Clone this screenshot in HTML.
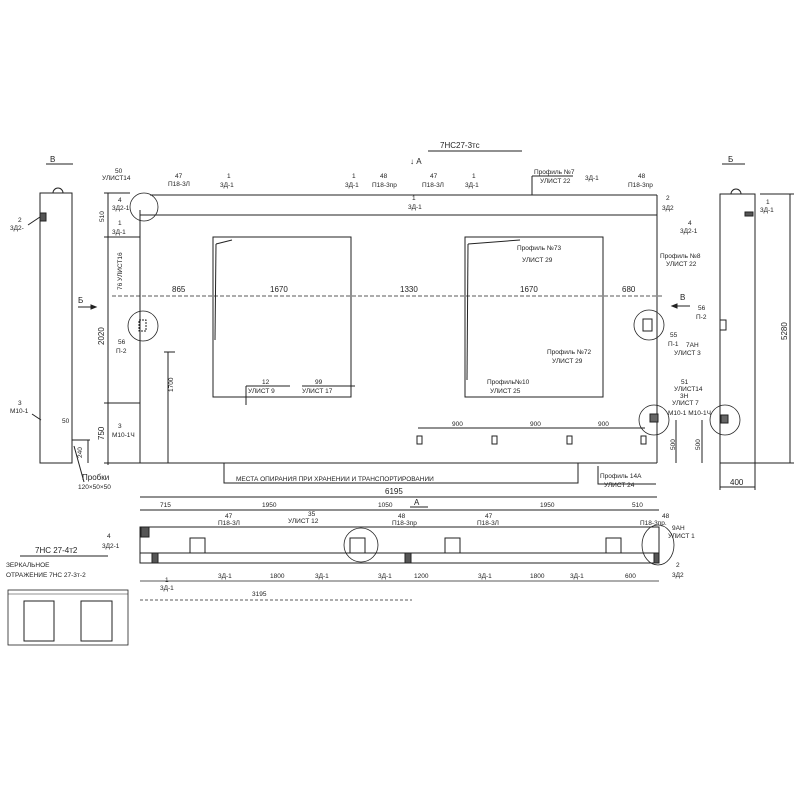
<!DOCTYPE html>
<html><head><meta charset="utf-8"><style>
body{margin:0;background:#fff}
svg{display:block}
text{font-family:"Liberation Sans","DejaVu Sans",sans-serif;fill:#222;font-size:8px}
.s{font-size:6.5px}
</style></head><body>
<svg width="800" height="800" viewBox="0 0 800 800" xmlns="http://www.w3.org/2000/svg" stroke="#222" fill="none" stroke-width="1">
<!-- title -->
<text x="440" y="148" font-size="11" stroke="none">7НС27-3тс</text>
<line x1="428" y1="151" x2="522" y2="151"/>
<text x="50" y="162" font-size="10" stroke="none">В</text><line x1="46" y1="164" x2="73" y2="164"/>
<text x="728" y="162" font-size="10" stroke="none">Б</text><line x1="722" y1="164" x2="745" y2="164"/>

<!-- left side view -->
<rect x="40" y="193" width="32" height="270"/>
<path d="M53 193 a5 5 0 0 1 10 0"/>
<rect x="40" y="213" width="6" height="8" fill="#555"/>
<line x1="28" y1="225" x2="40" y2="217"/>
<text x="18" y="222" class="s" stroke="none">2</text><text x="10" y="230" class="s" stroke="none">3Д2-</text>
<text x="18" y="405" class="s" stroke="none">3</text><text x="10" y="413" class="s" stroke="none">М10-1</text>
<line x1="32" y1="414" x2="41" y2="420"/>
<text x="62" y="423" class="s" stroke="none">50</text>
<line x1="72" y1="440" x2="90" y2="440"/><line x1="88" y1="440" x2="88" y2="463"/>
<text x="82" y="458" class="s" stroke="none" transform="rotate(-90 82 458)">240</text>
<text x="82" y="480" font-size="8" stroke="none">Пробки</text>
<text x="78" y="489" class="s" stroke="none">120×50×50</text>
<line x1="74" y1="446" x2="84" y2="482"/>
<text x="78" y="303" font-size="9" stroke="none">Б</text>
<line x1="78" y1="307" x2="96" y2="307"/><path d="M96 307 l-5 -2 v4z" fill="#222"/>

<!-- main panel -->
<line x1="150" y1="195" x2="657" y2="195"/>
<line x1="140" y1="215" x2="657" y2="215"/>
<line x1="140" y1="210" x2="140" y2="463"/>
<line x1="657" y1="195" x2="657" y2="463"/>
<line x1="140" y1="463" x2="657" y2="463"/>
<rect x="213" y="237" width="138" height="160"/>
<rect x="465" y="237" width="138" height="160"/>
<line x1="216" y1="244" x2="232" y2="240"/><line x1="216" y1="244" x2="215" y2="340"/>
<line x1="468" y1="244" x2="520" y2="240"/><line x1="468" y1="244" x2="467" y2="380"/>
<line x1="112" y1="296" x2="662" y2="296" stroke-dasharray="4 2" stroke-width="0.7"/>
<text x="172" y="292" stroke="none">865</text><text x="270" y="292" stroke="none">1670</text>
<text x="400" y="292" stroke="none">1330</text><text x="520" y="292" stroke="none">1670</text><text x="622" y="292" stroke="none">680</text>
<!-- left dim -->
<line x1="108" y1="193" x2="108" y2="465"/>
<line x1="104" y1="193" x2="130" y2="193"/><line x1="104" y1="237" x2="140" y2="237"/>
<line x1="104" y1="403" x2="140" y2="403"/><line x1="104" y1="463" x2="140" y2="463"/>
<text x="104" y="222" class="s" stroke="none" transform="rotate(-90 104 222)">510</text>
<text x="104" y="345" stroke="none" transform="rotate(-90 104 345)">2020</text>
<text x="104" y="440" stroke="none" transform="rotate(-90 104 440)">750</text>
<line x1="168" y1="352" x2="168" y2="463"/><line x1="164" y1="352" x2="175" y2="352"/>
<text x="173" y="392" class="s" stroke="none" transform="rotate(-90 173 392)">1700</text>
<circle cx="144" cy="207" r="14" stroke-width="0.8"/>
<circle cx="143" cy="326" r="15" stroke-width="0.8"/>
<rect x="139" y="320" width="7" height="11" stroke-dasharray="2 1"/>
<circle cx="649" cy="325" r="15" stroke-width="0.8"/><rect x="643" y="319" width="9" height="12"/>
<circle cx="654" cy="420" r="15" stroke-width="0.8"/><rect x="650" y="414" width="8" height="8" fill="#666"/>
<text x="115" y="173" class="s" stroke="none">50</text><text x="102" y="180" class="s" stroke="none">УЛИСТ14</text>
<text x="118" y="202" class="s" stroke="none">4</text><text x="112" y="210" class="s" stroke="none">3Д2-1</text>
<text x="118" y="225" class="s" stroke="none">1</text><text x="112" y="234" class="s" stroke="none">3Д-1</text>
<text x="122" y="290" class="s" stroke="none" transform="rotate(-90 122 290)">76 УЛИСТ16</text>
<text x="118" y="344" class="s" stroke="none">56</text><text x="116" y="353" class="s" stroke="none">П-2</text>
<text x="118" y="428" class="s" stroke="none">3</text><text x="112" y="437" class="s" stroke="none">М10-1Ч</text>
<!-- top labels -->
<text x="175" y="178" class="s" stroke="none">47</text><text x="168" y="186" class="s" stroke="none">П18-3Л</text>
<text x="227" y="178" class="s" stroke="none">1</text><text x="220" y="187" class="s" stroke="none">3Д-1</text>
<text x="352" y="178" class="s" stroke="none">1</text><text x="345" y="187" class="s" stroke="none">3Д-1</text>
<text x="380" y="178" class="s" stroke="none">48</text><text x="372" y="187" class="s" stroke="none">П18-3пр</text>
<text x="410" y="164" font-size="9" stroke="none">↓ А</text>
<text x="430" y="178" class="s" stroke="none">47</text><text x="422" y="187" class="s" stroke="none">П18-3Л</text>
<text x="472" y="178" class="s" stroke="none">1</text><text x="465" y="187" class="s" stroke="none">3Д-1</text>
<text x="412" y="200" class="s" stroke="none">1</text><text x="408" y="209" class="s" stroke="none">3Д-1</text>
<text x="534" y="174" class="s" stroke="none">Профиль №7</text><text x="540" y="183" class="s" stroke="none">УЛИСТ 22</text>
<line x1="532" y1="176" x2="573" y2="176"/><line x1="532" y1="176" x2="532" y2="195"/>
<text x="585" y="180" class="s" stroke="none">3Д-1</text>
<text x="638" y="178" class="s" stroke="none">48</text><text x="628" y="187" class="s" stroke="none">П18-3пр</text>
<text x="666" y="200" class="s" stroke="none">2</text><text x="662" y="210" class="s" stroke="none">3Д2</text>
<text x="688" y="225" class="s" stroke="none">4</text><text x="680" y="233" class="s" stroke="none">3Д2-1</text>
<text x="660" y="258" class="s" stroke="none">Профиль №8</text><text x="666" y="266" class="s" stroke="none">УЛИСТ 22</text>
<text x="517" y="250" class="s" stroke="none">Профиль №73</text><text x="522" y="262" class="s" stroke="none">УЛИСТ 29</text>
<text x="547" y="354" class="s" stroke="none">Профиль №72</text><text x="552" y="363" class="s" stroke="none">УЛИСТ 29</text>
<text x="487" y="384" class="s" stroke="none">Профиль№10</text><text x="490" y="393" class="s" stroke="none">УЛИСТ 25</text>
<text x="262" y="384" class="s" stroke="none">12</text><text x="248" y="393" class="s" stroke="none">УЛИСТ 9</text>
<text x="315" y="384" class="s" stroke="none">99</text><text x="302" y="393" class="s" stroke="none">УЛИСТ 17</text>
<line x1="246" y1="386" x2="290" y2="386"/><line x1="246" y1="386" x2="246" y2="405"/><line x1="302" y1="386" x2="355" y2="386"/>
<text x="680" y="300" font-size="9" stroke="none">В</text><line x1="672" y1="306" x2="690" y2="306"/><path d="M672 306 l5 -2 v4z" fill="#222"/>
<text x="698" y="310" class="s" stroke="none">56</text><text x="696" y="319" class="s" stroke="none">П-2</text>
<text x="670" y="337" class="s" stroke="none">55</text><text x="668" y="346" class="s" stroke="none">П-1</text>
<text x="686" y="347" class="s" stroke="none">7АН</text><text x="674" y="355" class="s" stroke="none">УЛИСТ 3</text>
<text x="681" y="384" class="s" stroke="none">51</text><text x="674" y="391" class="s" stroke="none">УЛИСТ14</text>
<text x="680" y="398" class="s" stroke="none">3Н</text><text x="672" y="405" class="s" stroke="none">УЛИСТ 7</text>
<text x="668" y="415" class="s" stroke="none">М10-1 М10-1Ч</text>
<!-- 900 dims -->
<line x1="418" y1="428" x2="645" y2="428"/>
<text x="452" y="426" class="s" stroke="none">900</text><text x="530" y="426" class="s" stroke="none">900</text><text x="598" y="426" class="s" stroke="none">900</text>
<rect x="417" y="436" width="5" height="8"/><rect x="492" y="436" width="5" height="8"/><rect x="567" y="436" width="5" height="8"/><rect x="641" y="436" width="5" height="8"/>
<line x1="676" y1="420" x2="676" y2="463"/><text x="675" y="450" class="s" stroke="none" transform="rotate(-90 675 450)">500</text>
<!-- bottom -->
<text x="236" y="481" class="s" stroke="none">МЕСТА ОПИРАНИЯ ПРИ ХРАНЕНИИ И ТРАНСПОРТИРОВАНИИ</text>
<path d="M224 463 v20 h354 v-20"/>
<path d="M598 466 v18 h58"/>
<text x="600" y="478" class="s" stroke="none">Профиль 14А</text><text x="604" y="487" class="s" stroke="none">УЛИСТ 24</text>
<line x1="140" y1="497" x2="657" y2="497"/><text x="385" y="494" stroke="none">6195</text>
<!-- right view -->
<rect x="720" y="194" width="35" height="269"/>
<path d="M731 194 a5 5 0 0 1 10 0"/>
<rect x="745" y="212" width="8" height="4" fill="#555"/>
<text x="766" y="204" class="s" stroke="none">1</text><text x="760" y="212" class="s" stroke="none">3Д-1</text>
<circle cx="725" cy="420" r="15" stroke-width="0.8"/><rect x="721" y="415" width="7" height="8" fill="#666"/>
<rect x="720" y="320" width="6" height="10"/>
<line x1="790" y1="194" x2="790" y2="463"/><line x1="760" y1="194" x2="794" y2="194"/><line x1="755" y1="463" x2="794" y2="463"/>
<text x="787" y="340" stroke="none" transform="rotate(-90 787 340)">5280</text>
<line x1="702" y1="420" x2="702" y2="463"/><text x="700" y="450" class="s" stroke="none" transform="rotate(-90 700 450)">500</text>
<line x1="720" y1="463" x2="720" y2="490"/><line x1="755" y1="463" x2="755" y2="490"/><line x1="720" y1="487" x2="755" y2="487"/>
<text x="730" y="485" stroke="none">400</text>

<!-- plan -->
<rect x="140" y="527" width="519" height="36"/>
<line x1="140" y1="553" x2="659" y2="553"/>
<rect x="141" y="527" width="8" height="10" fill="#555"/>
<line x1="140" y1="510" x2="659" y2="510"/>
<text x="160" y="507" class="s" stroke="none">715</text><text x="262" y="507" class="s" stroke="none">1950</text>
<text x="378" y="507" class="s" stroke="none">1050</text><text x="414" y="505" font-size="9" stroke="none">А</text><line x1="410" y1="507" x2="428" y2="507"/>
<text x="540" y="507" class="s" stroke="none">1950</text><text x="632" y="507" class="s" stroke="none">510</text>
<rect x="190" y="538" width="15" height="15"/><rect x="350" y="538" width="15" height="15"/>
<rect x="445" y="538" width="15" height="15"/><rect x="606" y="538" width="15" height="15"/>
<rect x="152" y="553" width="6" height="10" fill="#555"/><rect x="405" y="553" width="6" height="10" fill="#555"/><rect x="654" y="553" width="5" height="10" fill="#555"/>
<circle cx="361" cy="545" r="17" stroke-width="0.8"/><ellipse cx="658" cy="545" rx="16" ry="20" stroke-width="0.8"/>
<text x="225" y="518" class="s" stroke="none">47</text><text x="218" y="525" class="s" stroke="none">П18-3Л</text>
<text x="308" y="516" class="s" stroke="none">35</text><text x="288" y="523" class="s" stroke="none">УЛИСТ 12</text>
<text x="398" y="518" class="s" stroke="none">48</text><text x="392" y="525" class="s" stroke="none">П18-3пр</text>
<text x="485" y="518" class="s" stroke="none">47</text><text x="477" y="525" class="s" stroke="none">П18-3Л</text>
<text x="662" y="518" class="s" stroke="none">48</text><text x="640" y="525" class="s" stroke="none">П18-3пр.</text>
<text x="672" y="530" class="s" stroke="none">9АН</text><text x="668" y="538" class="s" stroke="none">УЛИСТ 1</text>
<text x="107" y="538" class="s" stroke="none">4</text><text x="102" y="548" class="s" stroke="none">3Д2-1</text>
<text x="35" y="553" font-size="9" stroke="none">7НС 27-4т2</text><line x1="20" y1="556" x2="108" y2="556"/>
<text x="6" y="567" class="s" stroke="none">ЗЕРКАЛЬНОЕ</text>
<text x="6" y="577" class="s" stroke="none">ОТРАЖЕНИЕ 7НС 27-3т-2</text>
<line x1="140" y1="581" x2="659" y2="581" stroke-width="0.7"/>
<text x="165" y="582" class="s" stroke="none">1</text><text x="160" y="590" class="s" stroke="none">3Д-1</text>
<text x="218" y="578" class="s" stroke="none">3Д-1</text><text x="270" y="578" class="s" stroke="none">1800</text>
<text x="315" y="578" class="s" stroke="none">3Д-1</text><text x="378" y="578" class="s" stroke="none">3Д-1</text>
<text x="414" y="578" class="s" stroke="none">1200</text><text x="478" y="578" class="s" stroke="none">3Д-1</text>
<text x="530" y="578" class="s" stroke="none">1800</text><text x="570" y="578" class="s" stroke="none">3Д-1</text>
<text x="625" y="578" class="s" stroke="none">600</text>
<text x="676" y="567" class="s" stroke="none">2</text><text x="672" y="577" class="s" stroke="none">3Д2</text>
<line x1="140" y1="600" x2="412" y2="600" stroke-dasharray="3 2" stroke-width="0.7"/>
<text x="252" y="596" class="s" stroke="none">3195</text>
<!-- thumbnail -->
<rect x="8" y="590" width="120" height="55" stroke-width="0.8"/>
<line x1="8" y1="594" x2="128" y2="594" stroke-width="0.6"/>
<rect x="24" y="601" width="30" height="40"/><rect x="81" y="601" width="31" height="40"/>
</svg>
</body></html>
